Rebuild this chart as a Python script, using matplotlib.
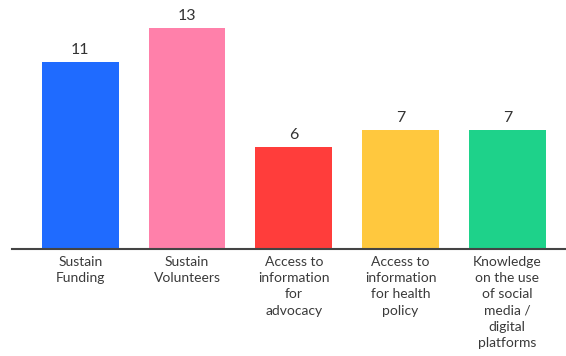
import numpy as np
import matplotlib.pyplot as plt

categories = [
    "Sustain\nFunding",
    "Sustain\nVolunteers",
    "Access to\ninformation\nfor\nadvocacy",
    "Access to\ninformation\nfor health\npolicy",
    "Knowledge\non the use\nof social\nmedia /\ndigital\nplatforms",
]
values = [11, 13, 6, 7, 7]
colors = ["#1F6BFF", "#FF80AA", "#FF3D3B", "#FFC83E", "#1ED28A"]

plt.rcParams['font.family'] = ['Lato', 'DejaVu Sans']

fig = plt.figure(figsize=(5.66, 3.56), dpi=100)
ax = fig.add_axes([12 / 566, 107 / 356, 554 / 566, 249 / 356])

x = np.arange(len(values))
bars = ax.bar(x, values, width=0.72, color=colors)

# value labels above each bar
for xi, v in zip(x, values):
    ax.text(xi, v + 0.3, str(v), ha='center', va='bottom',
            fontsize=11.5, color='#333333')

ax.set_xlim(-0.64, 4.55)
ax.set_ylim(0, 14.65)

ax.set_xticks(x)
ax.set_xticklabels(categories, fontsize=10, color='#3a3a3a', linespacing=1.42)
ax.tick_params(axis='x', length=0, pad=5)
ax.set_yticks([])

for side in ['top', 'right', 'left']:
    ax.spines[side].set_visible(False)
ax.spines['bottom'].set_color('#444444')
ax.spines['bottom'].set_linewidth(1.5)

fig.savefig('out.png', dpi=100)
